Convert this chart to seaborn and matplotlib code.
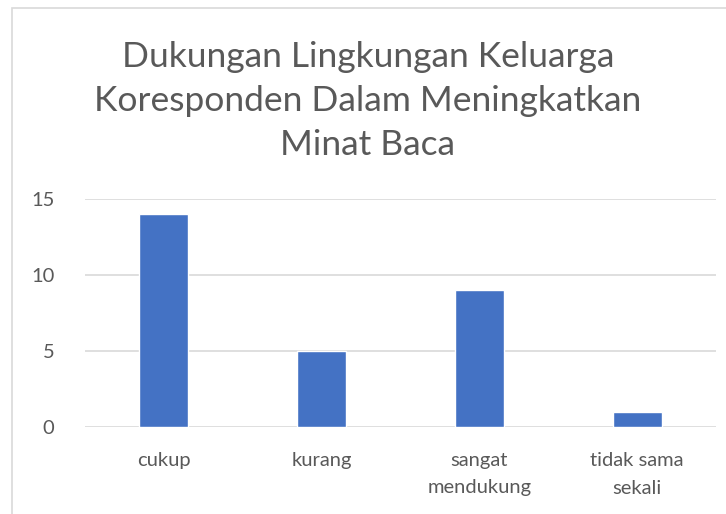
import matplotlib
matplotlib.use("Agg")
import matplotlib.pyplot as plt
import seaborn as sns
import pandas as pd
from matplotlib.patches import Rectangle

categories = ["cukup", "kurang", "sangat\nmendukung", "tidak sama\nsekali"]
values = [14, 5, 9, 1]
yticks = [0, 5, 10, 15]
title = "Dukungan Lingkungan Keluarga\nKoresponden Dalam Meningkatkan\nMinat Baca"

sns.set_style("white")
plt.rcParams["font.family"] = ["Lato", "DejaVu Sans"]

df = pd.DataFrame({"cat": categories, "val": values})

fig = plt.figure(figsize=(7.26, 5.14), dpi=100)
ax = fig.add_axes([85/726, 1-427/514, (716-85)/726, (427-199)/514])
sns.barplot(data=df, x="cat", y="val", color="#4472C4", width=0.31, ax=ax,
            saturation=1, zorder=3)
ax.set_ylim(0, 15)
ax.set_yticks(yticks)
ax.set_xlim(-0.5, 3.5)
ax.yaxis.grid(True, color="#D9D9D9", lw=1.2, zorder=0)
ax.set_axisbelow(True)
for s in ax.spines.values():
    s.set_visible(False)
ax.set_xlabel("")
ax.set_ylabel("")
ax.tick_params(axis="both", length=0, labelsize=14.5, colors="#595959")
ax.tick_params(axis="x", pad=18)
ax.tick_params(axis="y", pad=22)
for lab in ax.get_xticklabels():
    lab.set_linespacing(1.75)
for lab in ax.get_yticklabels():
    lab.set_horizontalalignment("right")

fig.text(368/726, 1-101/514, title, ha="center", va="center", fontsize=25.5,
         color="#595959", linespacing=1.45)

fig.patches.append(Rectangle((12/726, -0.1), 1.2, 1 - 8/514 + 0.1, transform=fig.transFigure,
                             fill=False, edgecolor="#D9D9D9", lw=1.2))
fig.savefig("out.png", dpi=100)
